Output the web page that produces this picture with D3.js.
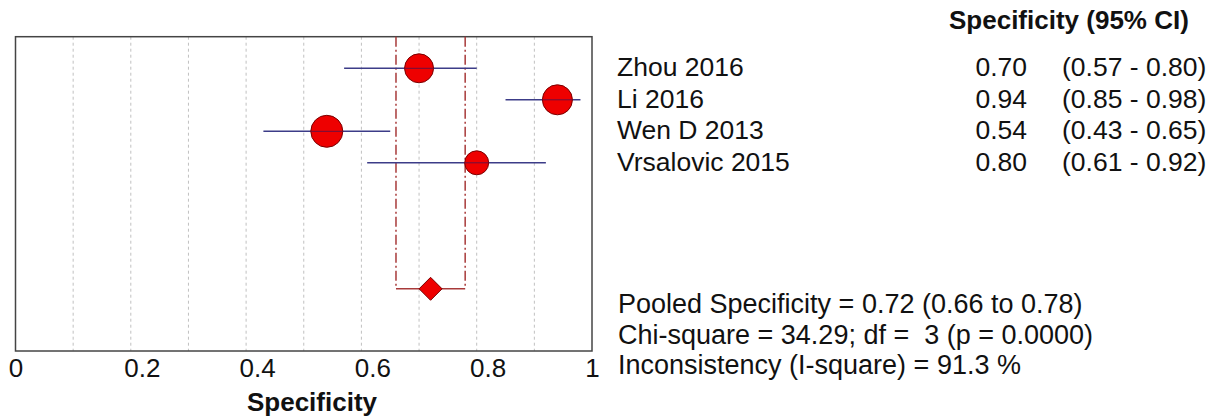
<!DOCTYPE html>
<html>
<head>
<meta charset="utf-8">
<script src="https://cdn.jsdelivr.net/npm/d3@7"></script>
<style>
  body { margin: 0; background: #fff; }
  svg { display: block; font-family: "Liberation Sans", Arial, sans-serif; }
  text { fill: #111; }
</style>
</head>
<body>
<svg id="forest"></svg>
<script>
// study data
const studies = ["Zhou 2016", "Li 2016", "Wen D 2013", "Vrsalovic 2015"];
const spec = [0.70, 0.94, 0.54, 0.80];
const lower = [0.57, 0.85, 0.43, 0.61];
const upper = [0.80, 0.98, 0.65, 0.92];
const weights = [82, 88, 100, 56]; // relative study weights (marker size)

// pooled estimate
const pooled = [0.72, 0.66, 0.78]; // estimate, lower, upper
const statLines = [
    "Chi-square = 34.29; df =  3 (p = 0.0000)",
    "Inconsistency (I-square) = 91.3 %"
];

const tickValues = [0, 0.2, 0.4, 0.6, 0.8, 1];
const gridValues = [0.1, 0.2, 0.3, 0.4, 0.5, 0.6, 0.7, 0.8, 0.9];

let width = 1217, height = 417;
let box = {left: 15.5, right: 592, top: 36.7, bottom: 351};

let svg = d3.select("#forest")
    .attr("width", width)
    .attr("height", height);

let x = d3.scaleLinear()
    .domain([0, 1])
    .range([box.left, box.right]);

// row 0..3 = studies, row 7 = pooled
let y = d3.scaleLinear()
    .domain([0, 7])
    .range([68.3, 288.8]);

let r = d3.scaleSqrt()
    .domain([0, d3.max(weights)])
    .range([0, 16]);

let fmt = d3.format(".2f");

// grid lines
svg.append("g")
    .selectAll("line")
    .data(gridValues)
    .join("line")
    .attr("x1", d => x(d))
    .attr("x2", d => x(d))
    .attr("y1", box.top)
    .attr("y2", box.bottom)
    .style("stroke", "#c0c0c0")
    .style("stroke-width", 1)
    .style("stroke-dasharray", "3,3");

// box
svg.append("rect")
    .attr("x", box.left)
    .attr("y", box.top)
    .attr("width", box.right - box.left)
    .attr("height", box.bottom - box.top)
    .style("fill", "none")
    .style("stroke", "#444")
    .style("stroke-width", 1.5);

// pooled CI bracket (dashed verticals + bottom join)
let py = y(7);
let bracket = svg.append("g")
    .style("stroke", "#a83a3a")
    .style("stroke-width", 1.5)
    .style("fill", "none");

[pooled[1], pooled[2]].forEach(v => {
    bracket.append("line")
        .attr("x1", x(v)).attr("x2", x(v))
        .attr("y1", box.top).attr("y2", py)
        .style("stroke-dasharray", "10,3,2,3");
});
bracket.append("line")
    .attr("x1", x(pooled[1])).attr("x2", x(pooled[2]))
    .attr("y1", py).attr("y2", py);

// study CI lines
svg.append("g")
    .selectAll("line")
    .data(studies)
    .join("line")
    .attr("x1", (d, i) => x(lower[i]))
    .attr("x2", (d, i) => x(upper[i]))
    .attr("y1", (d, i) => y(i))
    .attr("y2", (d, i) => y(i))
    .style("stroke", "#3c3c88")
    .style("stroke-width", 1.5);

// study markers
svg.append("g")
    .selectAll("circle")
    .data(studies)
    .join("circle")
    .attr("cx", (d, i) => x(spec[i]))
    .attr("cy", (d, i) => y(i))
    .attr("r", (d, i) => r(weights[i]))
    .style("fill", "#ee0000")
    .style("stroke", "#7a0000")
    .style("stroke-width", 1);

// CI line shows through the markers
svg.append("g")
    .selectAll("line")
    .data(studies)
    .join("line")
    .attr("x1", (d, i) => x(spec[i]) - r(weights[i]))
    .attr("x2", (d, i) => x(spec[i]) + r(weights[i]))
    .attr("y1", (d, i) => y(i))
    .attr("y2", (d, i) => y(i))
    .style("stroke", "#6a1040")
    .style("stroke-width", 1);

// pooled diamond
let dh = 11.5;
svg.append("path")
    .attr("d", `M${x(pooled[0]) - dh},${py} L${x(pooled[0])},${py - dh} L${x(pooled[0]) + dh},${py} L${x(pooled[0])},${py + dh} Z`)
    .style("fill", "#ee0000")
    .style("stroke", "#7a0000")
    .style("stroke-width", 1);

// x axis
let xAxis = svg.append("g")
    .attr("transform", `translate(0,${box.bottom})`)
    .call(d3.axisBottom(x)
        .tickValues(tickValues)
        .tickSize(0)
        .tickPadding(8)
        .tickFormat(d => d === 0 || d === 1 ? d3.format("d")(d) : d3.format(".1f")(d)));
xAxis.select(".domain").remove();
xAxis.selectAll("text")
    .attr("font-size", 26)
    .attr("font-family", "Liberation Sans, Arial, sans-serif")
    .attr("fill", "#111")
    .attr("dx", d => (d === 0 || d === 1) ? 0 : 11);

svg.append("text")
    .attr("x", 312)
    .attr("y", 410.5)
    .attr("text-anchor", "middle")
    .attr("font-size", 26)
    .attr("font-weight", "bold")
    .text("Specificity");

// right-hand table
svg.append("text")
    .attr("x", 949)
    .attr("y", 29.3)
    .attr("font-size", 26)
    .attr("font-weight", "bold")
    .text("Specificity (95% CI)");

let rows = svg.append("g")
    .attr("font-size", 26.5)
    .selectAll("g")
    .data(studies)
    .join("g")
    .attr("transform", (d, i) => `translate(0,${y(i) + 8})`);

rows.append("text")
    .attr("x", 617)
    .text(d => d);

rows.append("text")
    .attr("x", 1027)
    .attr("text-anchor", "end")
    .text((d, i) => fmt(spec[i]));

rows.append("text")
    .attr("x", 1062)
    .text((d, i) => `(${fmt(lower[i])} - ${fmt(upper[i])})`);

// summary statistics
let stats = [`Pooled Specificity = ${fmt(pooled[0])} (${fmt(pooled[1])} to ${fmt(pooled[2])})`].concat(statLines);
svg.append("g")
    .attr("font-size", 27)
    .selectAll("text")
    .data(stats)
    .join("text")
    .attr("x", 618)
    .attr("y", (d, i) => 313.3 + i * 30.5)
    .style("white-space", "pre")
    .text(d => d);
</script>
</body>
</html>
